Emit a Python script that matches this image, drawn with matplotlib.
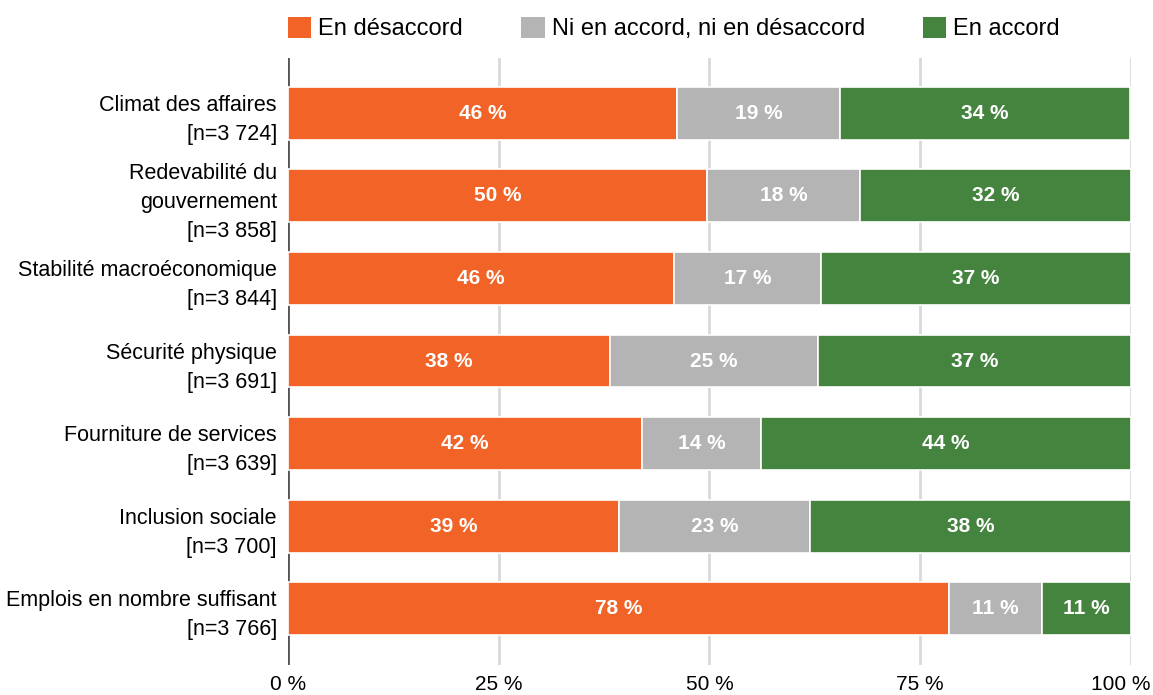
import matplotlib
matplotlib.use("Agg")
import matplotlib.pyplot as plt
from matplotlib.patches import Patch
from matplotlib.transforms import ScaledTranslation

plt.rcParams["font.family"] = ["Liberation Sans", "DejaVu Sans"]

categories = [
    "Climat des affaires\n[n=3 724]",
    "Redevabilité du\ngouvernement\n[n=3 858]",
    "Stabilité macroéconomique\n[n=3 844]",
    "Sécurité physique\n[n=3 691]",
    "Fourniture de services\n[n=3 639]",
    "Inclusion sociale\n[n=3 700]",
    "Emplois en nombre suffisant\n[n=3 766]",
]
disagree = [46.1, 49.7, 45.8, 38.2, 42.0, 39.3, 78.4]
neutral = [19.4, 18.2, 17.4, 24.7, 14.1, 22.6, 11.0]
agree = [34.4, 32.1, 36.8, 37.1, 43.9, 38.1, 10.6]

series = [
    ("En désaccord", disagree, "#F16326"),
    ("Ni en accord, ni en désaccord", neutral, "#B4B4B4"),
    ("En accord", agree, "#45843F"),
]

fig = plt.figure(figsize=(11.53, 6.95), dpi=100)
ax = fig.add_axes([0.2498, 0.0432, 0.7311, 0.8734])

y = list(range(len(categories)))
left = [0.0] * len(categories)
for name, vals, color in series:
    bars = ax.barh(y, vals, left=left, height=0.64, color=color,
                   edgecolor="white", linewidth=1.2, label=name, zorder=2)
    for b, v in zip(bars, vals):
        ax.text(b.get_x() + b.get_width() / 2, b.get_y() + b.get_height() / 2,
                f"{v:.0f} %", ha="center", va="center", color="white",
                fontsize=15, fontweight="bold", zorder=3)
    left = [l + v for l, v in zip(left, vals)]

# grid lines behind the bars
for x in [25, 50, 75, 100]:
    ax.axvline(x, color="#D9D9D9", linewidth=2, zorder=0)
ax.axvline(0, color="#555555", linewidth=2, zorder=1)

ax.set_xlim(0, 100)
ax.set_ylim(6.68, -0.67)
ax.set_xticks([0, 25, 50, 75, 100])
ax.set_xticklabels(["0 %", "25 %", "50 %", "75 %", "100 %"], fontsize=15)
ax.set_yticks(y)
ax.set_yticklabels(categories, fontsize=15.5, ha="right", linespacing=1.5)
ax.tick_params(axis="both", length=0)
ax.tick_params(axis="x", pad=7)
ax.tick_params(axis="y", pad=8)
for s in ax.spines.values():
    s.set_visible(False)

# keep the last tick label inside the figure
last = ax.get_xticklabels()[-1]
last.set_transform(last.get_transform() + ScaledTranslation(-10 / 100, 0, fig.dpi_scale_trans))

handles = [Patch(facecolor=c, edgecolor="none", label=n) for n, _, c in series]
fig.legend(handles=handles, loc="upper left", bbox_to_anchor=(0.2351, 1.0),
           ncol=3, frameon=False, fontsize=17, handlelength=1.0, handleheight=1.0,
           handletextpad=0.3, columnspacing=2.45, borderaxespad=0.3)

fig.savefig("out.png", dpi=100)
